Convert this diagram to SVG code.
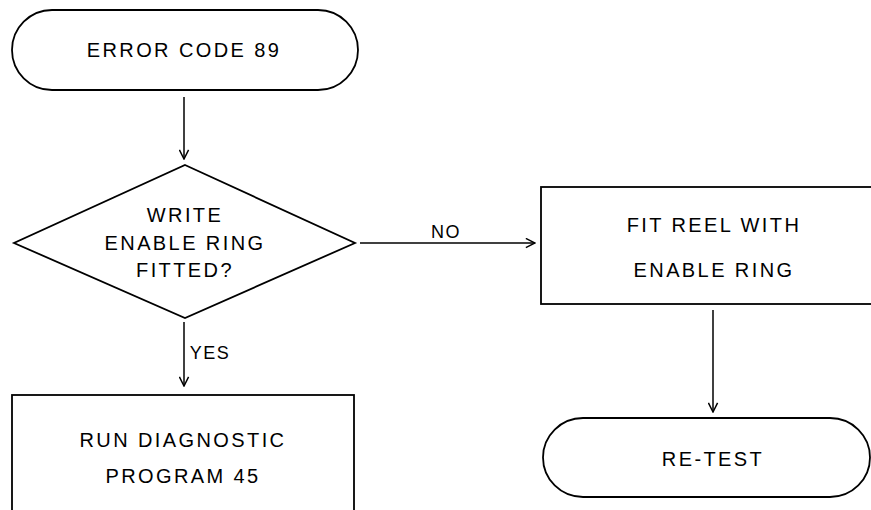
<svg xmlns="http://www.w3.org/2000/svg" width="871" height="510" viewBox="0 0 871 510">
<defs>
<marker id="ah" viewBox="0 0 12 12" refX="11" refY="6" markerWidth="11" markerHeight="11" markerUnits="userSpaceOnUse" orient="auto">
<path d="M1,1 L11,6 L1,11" fill="none" stroke="#000" stroke-width="1.6"/>
</marker>
<style>
.s{fill:#fff;stroke:#000;stroke-width:1.8}
.t{font-family:"Liberation Sans",Arial,sans-serif;font-size:20px;letter-spacing:2.4px;fill:#000;text-anchor:middle}
.c{stroke:#000;stroke-width:1.5;fill:none;marker-end:url(#ah)}
</style>
</defs>
<rect width="871" height="510" fill="#fff"/>
<g id="n_error">
<rect class="s" x="12" y="10" width="346" height="80" rx="40" ry="40"/>
<text class="t" x="184" y="57">ERROR CODE 89</text>
</g>
<g id="n_decision">
<polygon class="s" points="185,165 355,243 185,318 14,243"/>
<text class="t" x="185" y="222">WRITE</text>
<text class="t" x="185" y="250">ENABLE RING</text>
<text class="t" x="185" y="277">FITTED?</text>
</g>
<g id="n_run">
<rect class="s" x="12" y="395" width="342" height="118"/>
<text class="t" x="183" y="447">RUN DIAGNOSTIC</text>
<text class="t" x="183" y="483">PROGRAM 45</text>
</g>
<g id="n_fit">
<rect class="s" x="541" y="187" width="340" height="117"/>
<text class="t" x="714" y="232">FIT REEL WITH</text>
<text class="t" x="714" y="277">ENABLE RING</text>
</g>
<g id="n_retest">
<rect class="s" x="543" y="418" width="327" height="79" rx="40" ry="40"/>
<text class="t" x="713" y="466">RE-TEST</text>
</g>
<g id="connectors">
<line class="c" x1="184" y1="97" x2="184" y2="159"/>
<line class="c" x1="184" y1="322" x2="184" y2="386"/>
<text class="t" x="210" y="359" style="font-size:18px;letter-spacing:1.5px">YES</text>
<line class="c" x1="360" y1="243" x2="535" y2="243"/>
<text class="t" x="446" y="238" style="font-size:18px;letter-spacing:1.5px">NO</text>
<line class="c" x1="713" y1="310" x2="713" y2="412"/>
</g>
</svg>
